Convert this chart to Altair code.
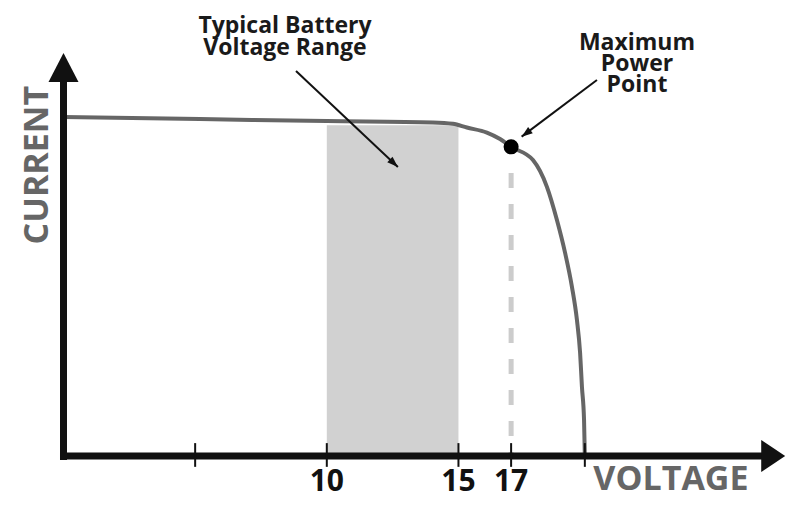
import altair as alt
import pandas as pd
import math

# ---- data ----
voltage = [0, 5.18, 10.0, 14.03, 14.79, 15.32, 16.08, 16.58, 17.0, 17.83, 18.36,
           18.74, 19.05, 19.31, 19.5, 19.62, 19.69, 19.77, 19.8]
current = [1.0, 0.994, 0.988, 0.984, 0.980, 0.969, 0.954, 0.935, 0.912, 0.873, 0.794,
           0.696, 0.599, 0.499, 0.401, 0.304, 0.204, 0.106, 0.0]
battery_range = [10, 15]
battery_top = 0.976
mpp_voltage = 17
mpp_current = 0.912
tick_values = [5, 10, 15, 17, 19.8]
tick_labels = ["10", "15", "17"]
tick_label_values = [10, 15, 17]

# ---- scales (px per unit used only for arrow angles) ----
W, H = 778, 491
XD = [-2.1079, 27.440]
YD = [-0.12685, 1.32153]
PX_X = W / (XD[1] - XD[0])
PX_Y = H / (YD[1] - YD[0])
xs = alt.Scale(domain=XD, nice=False, zero=False)
ys = alt.Scale(domain=YD, nice=False, zero=False)
FONT = "Open Sans"


def X(f="x"):
    return alt.X(f"{f}:Q", scale=xs, axis=None)


def Y(f="y"):
    return alt.Y(f"{f}:Q", scale=ys, axis=None)


def X2(f="x2"):
    return alt.X2(f"{f}:Q")


def Y2(f="y2"):
    return alt.Y2(f"{f}:Q")


curve_df = pd.DataFrame({"x": voltage, "y": current})

band = alt.Chart(pd.DataFrame({"x": [battery_range[0]], "x2": [battery_range[1]],
                               "y": [0.0], "y2": [battery_top]})).mark_rect(
    color="#d1d1d1").encode(x=X(), x2=X2(), y=Y(), y2=Y2())

dash = alt.Chart(pd.DataFrame({"x": [mpp_voltage], "y": [0.835], "y2": [0.0]})).mark_rule(
    color="#cccccc", strokeWidth=5, strokeDash=[15, 16]).encode(x=X(), y=Y(), y2=Y2())

curve = alt.Chart(curve_df).mark_line(color="#666666", strokeWidth=4,
                                      interpolate="monotone").encode(x=X(), y=Y())

axes_df = pd.DataFrame({"x": [-0.133, 0.0], "x2": [26.55, 0.0],
                        "y": [0.0, -0.0118], "y2": [0.0, 1.11]})
axes = alt.Chart(axes_df).mark_rule(color="#111111", strokeWidth=7).encode(
    x=X(), x2=X2(), y=Y(), y2=Y2())

ticks_df = pd.DataFrame({"x": tick_values, "y": [0.038] * len(tick_values),
                         "y2": [-0.032] * len(tick_values)})
ticks = alt.Chart(ticks_df).mark_rule(color="#111111", strokeWidth=2).encode(
    x=X(), y=Y(), y2=Y2())

yhead = alt.Chart(pd.DataFrame({"x": [0.0], "y": [1.1888]})).mark_point(
    shape="M0,0L1,1.93L-1,1.93Z", size=900, filled=True, color="#111111",
    opacity=1, strokeWidth=0).encode(x=X(), y=Y())
xhead = alt.Chart(pd.DataFrame({"x": [27.41], "y": [0.0]})).mark_point(
    shape="M0,0L-1.5,-1L-1.5,1Z", size=1024, filled=True, color="#111111",
    opacity=1, strokeWidth=0).encode(x=X(), y=Y())

dot = alt.Chart(pd.DataFrame({"x": [mpp_voltage], "y": [mpp_current]})).mark_circle(
    size=227, color="black", opacity=1).encode(x=X(), y=Y())

# annotation arrows
arrows = [(8.83, 1.1357, 12.70, 0.8525), (20.26, 1.109, 17.40, 0.942)]
arrow_layers = []
for (sx, sy, ex, ey) in arrows:
    d = pd.DataFrame({"x": [sx], "y": [sy], "x2": [ex], "y2": [ey]})
    arrow_layers.append(alt.Chart(d).mark_rule(color="#111111", strokeWidth=2).encode(
        x=X(), y=Y(), x2=X2(), y2=Y2()))
    dxp = (ex - sx) * PX_X
    dyp = -(ey - sy) * PX_Y
    ang = math.degrees(math.atan2(dxp, -dyp)) % 360
    arrow_layers.append(alt.Chart(pd.DataFrame({"x": [ex], "y": [ey]})).mark_point(
        shape="M0,0L0.7,2L-0.7,2Z", size=121, angle=round(ang, 2), filled=True,
        color="#111111", opacity=1, strokeWidth=0).encode(x=X(), y=Y()))

tick_text = alt.Chart(pd.DataFrame({"x": tick_label_values, "t": tick_labels,
                                    "y": [(456 - 491) / 339] * 3})).mark_text(
    font=FONT, fontSize=30, fontWeight="bold", color="#111111",
    baseline="alphabetic", align="center").encode(x=X(), y=Y(), text="t:N")

voltage_title = alt.Chart(pd.DataFrame({"x": [23.07], "y": [-0.0708], "t": ["VOLTAGE"]})).mark_text(
    font=FONT, fontSize=34, fontWeight="bold", color="#666666",
    baseline="middle", align="center").encode(x=X(), y=Y(), text="t:N")

current_title = alt.Chart(pd.DataFrame({"x": [-0.987], "y": [0.858], "t": ["CURRENT"]})).mark_text(
    font=FONT, fontSize=34, fontWeight="bold", color="#666666", angle=270,
    baseline="middle", align="center").encode(x=X(), y=Y(), text="t:N")

ann1 = alt.Chart(pd.DataFrame({"x": [8.41], "y": [1.2478],
                               "t": ["Typical Battery\nVoltage Range"]})).mark_text(
    font=FONT, fontSize=23, fontWeight="bold", color="#1a1a1a", lineHeight=22.5,
    lineBreak="\n", baseline="alphabetic", align="center").encode(x=X(), y=Y(), text="t:N")

ann2 = alt.Chart(pd.DataFrame({"x": [21.78], "y": [(456 - 50) / 339],
                               "t": ["Maximum\nPower\nPoint"]})).mark_text(
    font=FONT, fontSize=23, fontWeight="bold", color="#1a1a1a", lineHeight=21,
    lineBreak="\n", baseline="alphabetic", align="center").encode(x=X(), y=Y(), text="t:N")

chart = alt.layer(band, dash, curve, axes, ticks, yhead, xhead, dot,
                  *arrow_layers, tick_text, voltage_title, current_title,
                  ann1, ann2).properties(
    width=W, height=H, padding=0,
    autosize=alt.AutoSizeParams(type="none"),
    background="white",
).configure_view(stroke=None)

chart.save("out.html", embed_options={"renderer": "svg", "actions": False})
